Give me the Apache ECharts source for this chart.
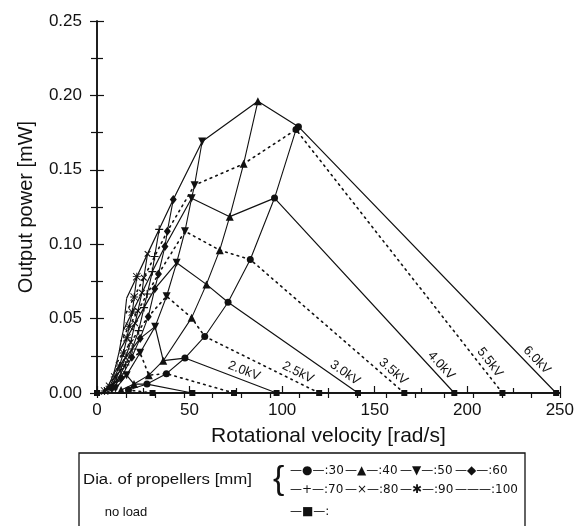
<!DOCTYPE html>
<html>
<head>
<meta charset="utf-8">
<script src="https://cdn.jsdelivr.net/npm/echarts@6/dist/echarts.min.js"></script>
<style>
  html, body { margin: 0; padding: 0; background: #fff; }
  #chart { width: 577px; height: 526px; }
</style>
</head>
<body>
<div id="chart"></div>
<script>
// Applied voltages; each voltage gives one point per propeller diameter.
const voltages = ['0.5kV', '1.0kV', '1.5kV', '2.0kV', '2.5kV', '3.0kV', '3.5kV', '4.0kV', '5.5kV', '6.0kV'];
// Voltages whose constant-voltage line carries a text label.
const labelledVoltages = [3, 4, 5, 6, 7, 8, 9];
// Dotted constant-voltage lines (the others are solid).
const dottedVoltages = [0, 2, 4, 6, 8];
// Rotational velocity with no load (output power 0) for each voltage [rad/s].
const noLoadSpeed = [30, 51.5, 74, 97, 120, 141, 166, 193, 219, 248];

// Propeller diameters [mm].
const diameters = ['30', '40', '50', '60', '70', '80', '90', '100'];

// Rotational velocity [rad/s] and output power [mW] per diameter, indexed like voltages.
const speed30 = [17, 27, 37.5, 47.5, 58.2, 70.8, 82.8, 95.9, 107.5, 108.8];
const power30 = [0.002, 0.006, 0.013, 0.0235, 0.038, 0.061, 0.0897, 0.131, 0.177, 0.179];
const speed40 = [13, 20, 28, 35.8, 51.1, 59.1, 66.3, 71.7, 79.2, 86.9];
const power40 = [0.002, 0.006, 0.012, 0.0217, 0.0505, 0.073, 0.096, 0.1185, 0.154, 0.196];
const speed50 = [10, 16, 23.3, 31.4, 37.6, 43.0, 47.5, 51.1, 52.7, 56.8];
const power50 = [0.003, 0.012, 0.027, 0.0446, 0.065, 0.0875, 0.1087, 0.1309, 0.1397, 0.169];
const speed60 = [8, 13, 18.8, 23.3, 27.7, 31.2, 33.2, 36.7, 38.0, 41.2];
const power60 = [0.003, 0.010, 0.024, 0.0367, 0.0513, 0.070, 0.080, 0.0985, 0.1087, 0.130];
const speed70 = [6.5, 10.6, 15.3, 19.0, 22.5, 25.4, 27.1, 29.9, 31.1, 33.6];
const power70 = [0.0024, 0.0079, 0.0189, 0.0296, 0.0419, 0.0574, 0.0665, 0.0816, 0.0917, 0.110];
const speed80 = [5.2, 8.6, 12.3, 15.4, 18.2, 20.6, 22.1, 24.3, 25.3, 27.3];
const power80 = [0.0019, 0.0062, 0.0146, 0.0237, 0.0341, 0.0469, 0.0552, 0.0674, 0.0775, 0.0935];
const speed90 = [4.1, 6.8, 9.6, 12.1, 14.3, 16.2, 17.4, 19.1, 20.1, 21.5];
const power90 = [0.0014, 0.0045, 0.0107, 0.0182, 0.0269, 0.0372, 0.0449, 0.0544, 0.0645, 0.0782];
const speed100 = [3, 5, 7, 9, 10.5, 12, 13, 14.2, 15, 16];
const power100 = [0.001, 0.003, 0.007, 0.013, 0.020, 0.028, 0.035, 0.042, 0.052, 0.0636];

// Axis ticks.
const xTicks = [0, 50, 100, 150, 200, 250];
const yTicks = [0.00, 0.05, 0.10, 0.15, 0.20, 0.25];

const speeds = [speed30, speed40, speed50, speed60, speed70, speed80, speed90, speed100];
const powers = [power30, power40, power50, power60, power70, power80, power90, power100];

// Where each voltage label sits along the last segment of its line (0 = 30 mm point, 1 = no-load point).
const labelAlong = { 3: 0.61, 4: 0.78, 5: 0.86, 6: 0.89, 7: 0.89, 8: 0.905, 9: 0.90 };

const FONT = '"Liberation Sans", Arial, Helvetica, sans-serif';
const INK = '#111';

// Marker shapes per diameter.
const downTri = 'path://M0,0 L10,0 L5,9 Z';
const plusMark = 'path://M4.3,0 H5.7 V4.3 H10 V5.7 H5.7 V10 H4.3 V5.7 H0 V4.3 H4.3 Z';
const starMark = 'path://M4.4,0 H5.6 V10 H4.4 Z M0,4.4 H10 V5.6 H0 Z M0.8,0 L10,9.2 L9.2,10 L0,0.8 Z M9.2,0 L10,0.8 L0.8,10 L0,9.2 Z';
const markerShapes = [
  { symbol: 'circle', size: 7, rotate: 0 },
  { symbol: 'triangle', size: 8, rotate: 0 },
  { symbol: downTri, size: 8, rotate: 0 },
  { symbol: 'diamond', size: [7, 9], rotate: 0 },
  { symbol: plusMark, size: 8, rotate: 0 },
  { symbol: plusMark, size: 8, rotate: 45 },
  { symbol: starMark, size: 8, rotate: 0 },
  { symbol: 'none', size: 0, rotate: 0 }
];

const series = [];

// Constant-voltage lines: from the no-load point through every diameter.
voltages.forEach((v, k) => {
  const pts = [[noLoadSpeed[k], 0]];
  speeds.forEach((s, d) => pts.push([s[k], powers[d][k]]));
  const dotted = dottedVoltages.includes(k);
  series.push({
    name: v,
    type: 'line',
    data: pts,
    showSymbol: false,
    symbol: 'none',
    silent: true,
    z: 2,
    lineStyle: dotted
      ? { color: INK, width: 1.6, type: [1.6, 4.4], cap: 'round' }
      : { color: INK, width: 1.2, type: 'solid' }
  });
});

// Propeller curves with their markers.
diameters.forEach((dia, d) => {
  const m = markerShapes[d];
  series.push({
    name: dia + ' mm',
    type: 'line',
    data: speeds[d].map((s, k) => [s, powers[d][k]]),
    symbol: m.symbol,
    symbolSize: m.size,
    symbolRotate: m.rotate,
    showSymbol: m.symbol !== 'none',
    z: 3,
    itemStyle: { color: INK, borderWidth: 0 },
    lineStyle: { color: INK, width: 1.1 }
  });
});

// No-load points along the velocity axis.
series.push({
  name: 'no load',
  type: 'line',
  data: [[0, 0]].concat(noLoadSpeed.map(s => [s, 0])),
  symbol: 'rect',
  symbolSize: 6,
  z: 4,
  itemStyle: { color: INK },
  lineStyle: { color: INK, width: 1.2 }
});

const axisLine = { show: true, lineStyle: { color: INK, width: 1.5 } };

const option = {
  animation: false,
  backgroundColor: '#fff',
  grid: { left: 97, right: 14, top: 21, bottom: 133, containLabel: false },
  xAxis: [
    {
      type: 'value', min: xTicks[0], max: xTicks[xTicks.length - 1], interval: xTicks[1] - xTicks[0],
      position: 'bottom',
      axisLine,
      axisTick: { show: true, inside: true, length: 7, lineStyle: { color: INK, width: 1.2 } },
      minorTick: { show: true, splitNumber: 2, length: 5, lineStyle: { color: INK, width: 1.2 } },
      splitLine: { show: false },
      axisLabel: { color: INK, fontSize: 17, fontFamily: FONT, margin: 9 },
      name: 'Rotational velocity [rad/s]',
      nameLocation: 'middle',
      nameGap: 33,
      nameTextStyle: { color: INK, fontSize: 21, fontFamily: FONT }
    },
    {
      type: 'value', min: 0, max: 250, interval: 250 / 16,
      position: 'top',
      axisLine,
      axisTick: { show: true, inside: true, length: 5, lineStyle: { color: INK, width: 1.2 } },
      splitLine: { show: false },
      axisLabel: { show: false }
    }
  ],
  yAxis: [
    {
      type: 'value', min: yTicks[0], max: yTicks[yTicks.length - 1], interval: yTicks[1] - yTicks[0],
      position: 'left',
      axisLine,
      axisTick: { show: true, inside: true, length: 7, lineStyle: { color: INK, width: 1.2 } },
      minorTick: { show: true, splitNumber: 2, length: 6, lineStyle: { color: INK, width: 1.2 } },
      splitLine: { show: false },
      axisLabel: { color: INK, fontSize: 17, fontFamily: FONT, margin: 15, formatter: v => v.toFixed(2) },
      name: 'Output power [mW]',
      nameLocation: 'middle',
      nameGap: 61,
      nameRotate: 90,
      nameTextStyle: { color: INK, fontSize: 20, fontFamily: FONT }
    },
    {
      type: 'value', min: 0, max: 0.25, interval: 0.05,
      position: 'right',
      axisLine,
      axisTick: { show: true, inside: true, length: 7, lineStyle: { color: INK, width: 1.2 } },
      minorTick: { show: true, splitNumber: 2, length: 6, lineStyle: { color: INK, width: 1.2 } },
      splitLine: { show: false },
      axisLabel: { show: false }
    }
  ],
  series
};

const chart = echarts.init(document.getElementById('chart'), null, { renderer: 'canvas' });
chart.setOption(option);

// Voltage labels placed along the lower end of each constant-voltage line.
const graphics = [];
labelledVoltages.forEach(k => {
  const a = chart.convertToPixel({ gridIndex: 0 }, [speed30[k], power30[k]]);
  const b = chart.convertToPixel({ gridIndex: 0 }, [noLoadSpeed[k], 0]);
  const ang = Math.atan2(b[1] - a[1], b[0] - a[0]);
  const f = labelAlong[k];
  const off = 9;
  const cx = a[0] + (b[0] - a[0]) * f + Math.sin(ang) * off;
  const cy = a[1] + (b[1] - a[1]) * f - Math.cos(ang) * off;
  graphics.push({
    type: 'text', x: cx, y: cy, rotation: -ang, z: 10,
    style: { text: voltages[k], fill: INK, font: '13px ' + FONT, textAlign: 'center', textVerticalAlign: 'middle' }
  });
});

// Legend panel.
const legendFont = '13px ' + FONT;
const symFont = '12px "DejaVu Sans", ' + FONT;
graphics.push({
  type: 'rect', shape: { x: 79, y: 453, width: 446, height: 90 },
  style: { fill: '#fff', stroke: INK, lineWidth: 1.3 }, z: 5
});
graphics.push({
  type: 'text', x: 83, y: 480, z: 6, scaleX: 1.2,
  style: { text: 'Dia. of propellers [mm]', fill: INK, font: '14px ' + FONT, textVerticalAlign: 'middle' }
});
graphics.push({
  type: 'text', x: 273, y: 480, z: 6,
  style: { text: '{', fill: INK, font: '300 34px ' + FONT, textVerticalAlign: 'middle' }
});
graphics.push({
  type: 'text', x: 126, y: 512, z: 6,
  style: { text: 'no load', fill: INK, font: legendFont, textAlign: 'center', textVerticalAlign: 'middle' }
});
const legendMarks = ['●', '▲', '▼', '◆', '+', '×', '✱', '—'];
diameters.forEach((dia, d) => {
  const col = d % 4, row = Math.floor(d / 4);
  graphics.push({
    type: 'text', x: 290 + col * 55, y: 471 + row * 19, z: 6,
    style: { text: '—' + legendMarks[d] + '—:' + dia, fill: INK, font: symFont, textVerticalAlign: 'middle' }
  });
});
graphics.push({
  type: 'text', x: 290, y: 512, z: 6,
  style: { text: '—■—:', fill: INK, font: symFont, textVerticalAlign: 'middle' }
});

chart.setOption({ graphic: graphics });
</script>
</body>
</html>
